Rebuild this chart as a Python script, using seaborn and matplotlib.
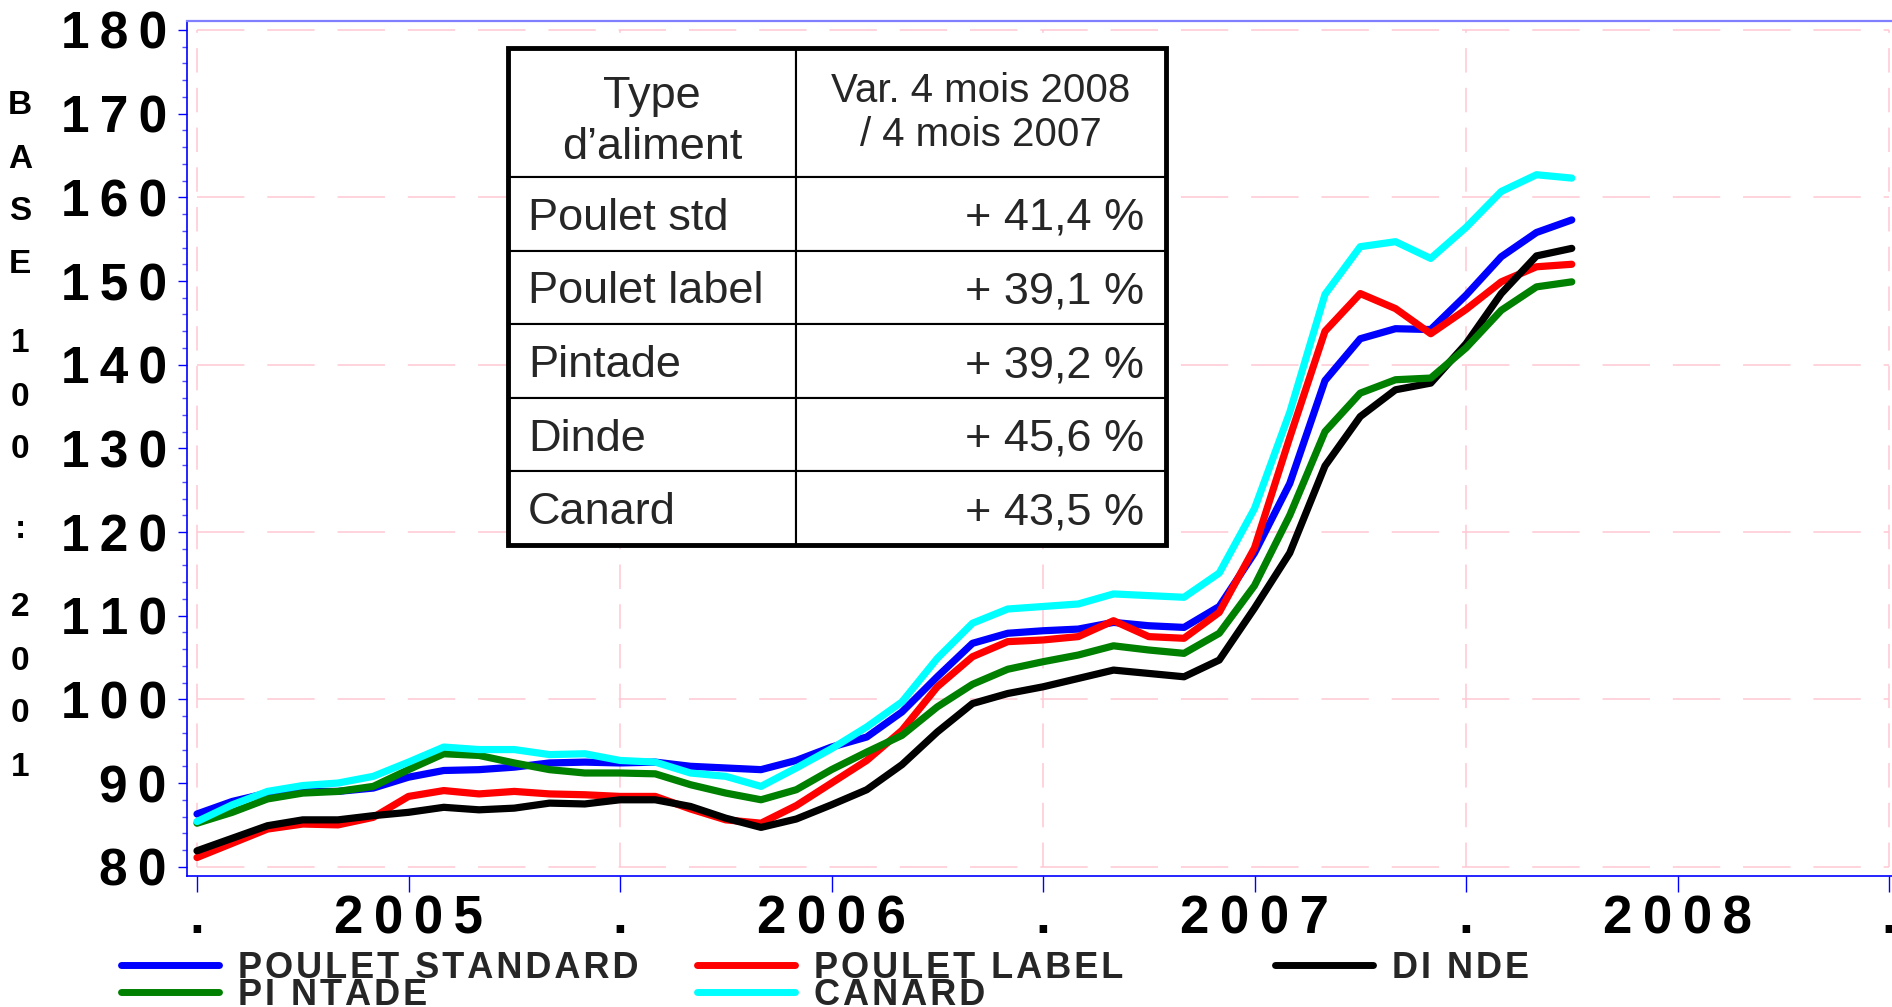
import numpy as np
import pandas as pd
import matplotlib
matplotlib.use("Agg")
import matplotlib.pyplot as plt
import seaborn as sns
from matplotlib.lines import Line2D
from matplotlib.patches import Rectangle
from matplotlib.ticker import MultipleLocator

# ---------------- data (monthly index, Jan 2005 -> Apr 2008) ----------------
years = ["2005", "2006", "2007", "2008"]
year_starts = [0, 12, 24, 36, 48]          # month index of each January
year_mids = [6, 18, 30, 42]

poulet_standard = [86.3, 87.8, 88.8, 89.0, 89.0, 89.4, 90.7, 91.5, 91.6, 91.9,
                   92.4, 92.5, 92.4, 92.5, 92.0, 91.8, 91.6, 92.7, 94.3, 95.5,
                   98.5, 102.7, 106.7, 107.9, 108.2, 108.4, 109.2, 108.8, 108.6, 111.1,
                   117.5, 125.8, 138.1, 143.1, 144.3, 144.2, 148.3, 152.9, 155.8, 157.3]
poulet_label = [81.1, 82.8, 84.5, 85.1, 85.0, 85.9, 88.4, 89.1, 88.7, 89.0,
                88.7, 88.6, 88.4, 88.4, 86.9, 85.6, 85.2, 87.3, 90.0, 92.7,
                96.3, 101.5, 105.1, 106.9, 107.1, 107.5, 109.4, 107.5, 107.3, 110.4,
                118.1, 131.3, 144.0, 148.5, 146.7, 143.7, 146.6, 149.9, 151.7, 152.0]
dinde = [81.9, 83.4, 84.9, 85.6, 85.6, 86.1, 86.5, 87.1, 86.8, 87.0,
         87.6, 87.5, 88.0, 88.0, 87.2, 85.8, 84.7, 85.7, 87.4, 89.2,
         92.2, 96.1, 99.5, 100.7, 101.5, 102.5, 103.5, 103.1, 102.7, 104.7,
         110.9, 117.5, 127.9, 133.8, 137.0, 137.8, 142.5, 148.5, 153.0, 153.9]
pintade = [85.2, 86.5, 88.1, 88.8, 89.0, 89.6, 91.6, 93.5, 93.3, 92.4,
           91.6, 91.2, 91.2, 91.1, 89.8, 88.8, 88.0, 89.2, 91.6, 93.7,
           95.7, 99.1, 101.8, 103.6, 104.5, 105.3, 106.4, 105.9, 105.5, 107.9,
           113.6, 122.0, 132.0, 136.6, 138.2, 138.4, 142.0, 146.5, 149.3, 149.9]
canard = [85.4, 87.4, 89.0, 89.7, 90.0, 90.8, 92.5, 94.3, 94.0, 94.0,
          93.4, 93.5, 92.7, 92.5, 91.2, 90.8, 89.6, 91.8, 94.1, 96.7,
          99.7, 104.9, 109.1, 110.8, 111.1, 111.4, 112.6, 112.4, 112.2, 115.1,
          122.8, 134.3, 148.4, 154.1, 154.7, 152.7, 156.4, 160.7, 162.7, 162.3]

series_names = ["POULET STANDARD", "POULET LABEL", "DI NDE", "PI NTADE", "CANARD"]
series_colors = ["#0000FF", "#FF0000", "#000000", "#008000", "#00FFFF"]

table_header = ["Type\nd\u2019aliment", "Var. 4 mois 2008\n/ 4 mois 2007"]
table_types = ["Poulet std", "Poulet label", "Pintade", "Dinde", "Canard"]
table_vars = ["+ 41,4 %", "+ 39,1 %", "+ 39,2 %", "+ 45,6 %", "+ 43,5 %"]

y_ticks = list(range(80, 181, 10))
side_label = "BASE 100 : 2001"

# ---------------- style ----------------
sns.set_theme(style="ticks")
plt.rcParams["font.family"] = ["Liberation Sans", "DejaVu Sans"]

frames = []
for name, vals in zip(series_names, [poulet_standard, poulet_label, dinde, pintade, canard]):
    frames.append(pd.DataFrame({"mois": np.arange(len(vals)), "indice": vals, "serie": name}))
df = pd.concat(frames, ignore_index=True)
palette = dict(zip(series_names, series_colors))

W, H = 1892, 1007
fig = plt.figure(figsize=(W / 100, H / 100), dpi=100)
ax = fig.add_axes([187 / W, 131 / H, 1705 / W, 855.3 / H])

pink = "#FFC8D2"
ax.hlines(y_ticks[::2], year_starts[0], year_starts[-1], colors=pink, linewidth=1.1,
          linestyles=(0, (31, 15)), zorder=0.5)
ax.vlines(year_starts, y_ticks[0], y_ticks[-1], colors=pink, linewidth=1.1,
          linestyles=(0, (16, 10)), zorder=0.5)

sns.lineplot(data=df, x="mois", y="indice", hue="serie", hue_order=series_names,
             palette=palette, linewidth=5.2, legend=False, ax=ax, sort=False,
             solid_capstyle="round", solid_joinstyle="round", zorder=2)

ax.set_xlim(-0.284, 48.085)
ax.set_ylim(78.89, 181.11)
ax.set_xlabel("")
ax.set_ylabel("")

# ticks
thin = "\u2009"
ax.set_yticks(y_ticks, [thin.join(str(v)) for v in y_ticks])
ax.yaxis.set_minor_locator(MultipleLocator(2))
ax.set_xticks(year_starts, ["."] * len(year_starts))
ax.set_xticks(year_mids, [thin.join(y) for y in years], minor=True)

ax.tick_params(axis="y", which="major", length=6.5, width=1.0, color="#0000FF",
               labelcolor="black", labelsize=37, pad=8, left=True)
ax.tick_params(axis="y", which="minor", length=3.4, width=1.0, color="#5050FF", left=True)
ax.tick_params(axis="x", which="both", length=11.5, width=1.0, color="#0000FF",
               labelcolor="black", labelsize=38, pad=1.5, bottom=True)
for lab in ax.get_yticklabels() + ax.get_xticklabels() + ax.get_xticklabels(minor=True):
    lab.set_fontweight("bold")

for s in ["left", "bottom"]:
    ax.spines[s].set_color("#0000FF")
    ax.spines[s].set_linewidth(1.2)
ax.spines["top"].set_color("#7F7FFF")
ax.spines["top"].set_linewidth(1.6)
ax.spines["right"].set_visible(False)

# ---------------- table ----------------
tb_left, tb_bottom, tb_w, tb_h = 0.1883, 0.3870, 0.3859, 0.5811
cell_text = [[t, v] for t, v in zip(table_types, table_vars)]
tbl = ax.table(cellText=cell_text, colLabels=table_header, colWidths=[0.4377, 0.5623],
               cellLoc="left", colLoc="center",
               bbox=[tb_left, tb_bottom, tb_w, tb_h], zorder=5)
tbl.auto_set_font_size(False)
for (r, c), cell in tbl.get_celld().items():
    cell.set_linewidth(1.5)
    cell.set_edgecolor("black")
    cell.set_facecolor("white")
    txt = cell.get_text()
    if r == 0:
        cell.set_height(0.2596)
        txt.set_horizontalalignment("center")
        if c == 0:
            txt.set_fontsize(32.5)
            txt.set_linespacing(1.3)
            txt.set_verticalalignment("center_baseline")
        else:
            txt.set_fontsize(29)
            txt.set_linespacing(1.2)
    else:
        cell.set_height(0.148)
        txt.set_fontsize(32.5)
        txt.set_verticalalignment("center_baseline")
        if c == 0:
            cell.PAD = 0.069
            txt.set_horizontalalignment("left")
        else:
            cell.PAD = 0.059
            txt.set_horizontalalignment("right")
ax.add_patch(Rectangle((tb_left, tb_bottom), tb_w, tb_h, transform=ax.transAxes,
                       fill=False, edgecolor="black", linewidth=3.5, zorder=6))

# ---------------- vertical side label ----------------
y = 106
for ch in side_label:
    if ch == " ":
        y += 26
        continue
    fig.text(20 / W, 1 - y / H, ch, ha="center", va="center", fontsize=24,
             fontweight="bold", color="black")
    y += 53

# ---------------- legend (three columns) ----------------
hair = "\u200a"
handles = {n: Line2D([], [], color=palette[n], linewidth=5) for n in series_names}
leg_kw = dict(frameon=False, prop={"weight": "bold", "size": 26}, handlelength=2.7,
              handletextpad=0.55, labelspacing=-0.22, borderpad=0, borderaxespad=0,
              loc="center left")
columns = [(["POULET STANDARD", "PI NTADE"], 121, 982),
           (["POULET LABEL", "CANARD"], 697, 982),
           (["DI NDE"], 1275, 968.5)]
for names, x0, yc in columns:
    fig.legend(handles=[handles[n] for n in names],
               labels=[hair.join(n) for n in names],
               bbox_to_anchor=(x0 / W, 1 - yc / H), **leg_kw)

fig.savefig("out.png", dpi=100)
